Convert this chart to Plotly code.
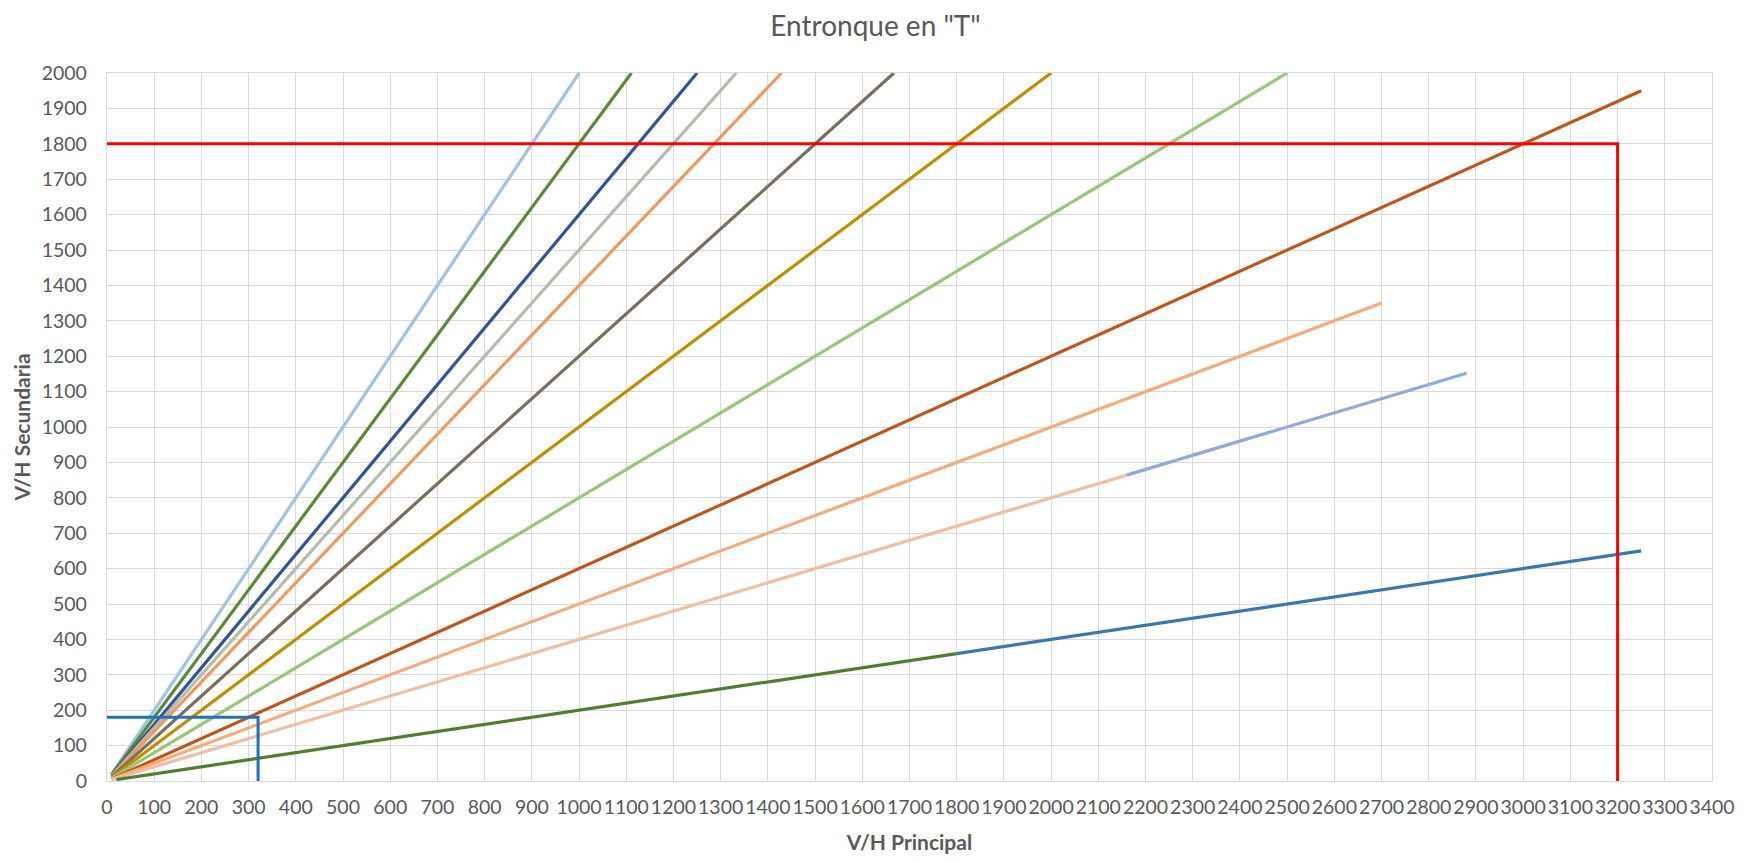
import plotly.graph_objects as go

# Series (straight lines from near origin), endpoints
series_names = ["Q1", "Q2", "Q3", "Q4", "Q5", "Q6", "Q7", "Q8", "Q9", "Q10", "Q11a", "Q11b", "Q12a", "Q12b"]
series_x = [
    [10, 1000],
    [10, 1111],
    [10, 1250],
    [10, 1333],
    [10, 1429],
    [10, 1667],
    [10, 2000],
    [10, 2500],
    [10, 3250],
    [10, 2700],
    [10, 2160],
    [2160, 2880],
    [20, 1800],
    [1800, 3250],
]
series_y = [
    [20, 2000],
    [18, 2000],
    [16, 2000],
    [15, 2000],
    [14, 2000],
    [12, 2000],
    [10, 2000],
    [8, 2000],
    [6, 1950],
    [5, 1350],
    [4, 864],
    [864, 1152],
    [4, 360],
    [360, 650],
]
series_colors = [
    "#9DC3E6", "#5B8A35", "#2F5597", "#B3BDAB", "#F09A60", "#7A6E5C",
    "#BF9000", "#97C777", "#C0571A", "#F4AD7A", "#EFBFA3", "#8FAADC",
    "#4F7F2E", "#3A78B0",
]

# Reference guides
red_x = [0, 3200, 3200]
red_y = [1800, 1800, 0]
blue_x = [0, 320, 320]
blue_y = [180, 180, 0]

fig = go.Figure()
for name, xs, ys, c in zip(series_names, series_x, series_y, series_colors):
    fig.add_trace(go.Scatter(x=xs, y=ys, mode="lines", name=name,
                             line=dict(color=c, width=3.2), showlegend=False))

fig.add_trace(go.Scatter(x=red_x, y=red_y, mode="lines", line=dict(color="#FF0000", width=3),
                         showlegend=False))
fig.add_trace(go.Scatter(x=blue_x, y=blue_y, mode="lines", line=dict(color="#1E73BE", width=3),
                         showlegend=False))

font_family = "Lato, 'Open Sans', sans-serif"
gray = "#595959"

fig.update_layout(
    width=1735, height=846,
    margin=dict(l=99, r=31, t=65, b=73, autoexpand=False),
    paper_bgcolor="white", plot_bgcolor="white",
    title=dict(text='Entronque en "T"', x=0.5, xanchor="center", y=1, yanchor="top",
               yref="container", pad=dict(t=8, b=0),
               font=dict(family=font_family, size=28, color=gray)),
    font=dict(family=font_family, color=gray),
)
fig.update_xaxes(
    range=[0, 3400], dtick=100, tick0=0, showgrid=True, gridcolor="#D9D9D9", gridwidth=1.3,
    zeroline=False, showline=True, linecolor="#D9D9D9", linewidth=1.3, mirror=True,
    tickfont=dict(size=19.5, color=gray), ticklabelstandoff=8, automargin=False,
    tickangle=0, ticklabeloverflow="allow",
    title=dict(text="<b>V/H Principal</b>", font=dict(size=21, color=gray), standoff=24),
)
fig.update_yaxes(
    range=[0, 2000], dtick=100, tick0=0, showgrid=True, gridcolor="#D9D9D9", gridwidth=1.3,
    zeroline=False, showline=True, linecolor="#D9D9D9", linewidth=1.3, mirror=True,
    tickfont=dict(size=19.5, color=gray), ticklabelstandoff=15, automargin=False,
    title=dict(text="<b>V/H Secundaria</b>", font=dict(size=21, color=gray), standoff=5),
)

fig.write_html("out.html")
